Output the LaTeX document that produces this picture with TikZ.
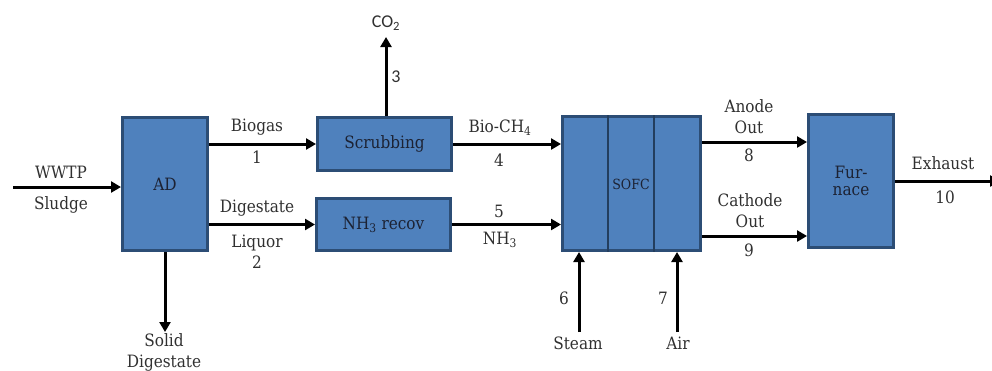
\documentclass[tikz,border=0pt]{standalone}
\usepackage{fontspec}
\setmainfont{DejaVu Serif Condensed}
\newfontfamily\cofont{Carlito}
\usetikzlibrary{arrows.meta,calc}
\definecolor{boxfill}{HTML}{4F81BD}
\definecolor{boxline}{HTML}{2C4D75}
\definecolor{txt}{HTML}{303030}
\definecolor{intxt}{HTML}{1C2233}
\tikzset{
  box/.style={draw=boxline, line width=3pt, fill=boxfill, text=intxt,
    font=\fontsize{17}{17}\selectfont, inner sep=0pt, align=center},
  arr/.style={line width=3pt, -{Triangle[length=10pt,width=11pt]}},
  lbl/.style={text=txt, font=\fontsize{17}{21}\selectfont, inner sep=0pt, align=center},
  cofnt/.style={text=txt, font=\cofont\fontsize{18}{20}\selectfont, inner sep=0pt},
  divider/.style={draw=boxline!80!black, line width=1.5pt}
}
\begin{document}
\begin{tikzpicture}[x=1pt,y=-1pt]
\useasboundingbox (0,0) rectangle (992,370);
% boxes
\node[box, minimum width=85pt, minimum height=133pt] (ad) at (165,184) {AD};
\node[box, minimum width=134pt, minimum height=53pt] (scrub) at (384.5,144) {Scrubbing};
\node[box, minimum width=134pt, minimum height=52pt] (nh3) at (383.5,224.5) {NH\textsubscript{3} recov};
\node[box, minimum width=138pt, minimum height=134pt] (sofc) at (631.5,183.5) {};
\node[box, minimum width=85pt, minimum height=133pt] (furn) at (851,181) {Fur-\\nace};
\draw[divider] ($(sofc.north west)!0.333!(sofc.north east)$) -- ($(sofc.south west)!0.333!(sofc.south east)$);
\draw[divider] ($(sofc.north west)!0.66!(sofc.north east)$) -- ($(sofc.south west)!0.66!(sofc.south east)$);
\node[text=intxt, font=\fontsize{14}{16}\selectfont, inner sep=0pt] (sofclbl) at (631,184) {SOFC};
% free ends
\coordinate (wwtp) at (13,187);
\coordinate (solid) at (165,332);
\coordinate (co2) at (386,37);
\coordinate (steam) at (579,332);
\coordinate (air) at (677,332);
\coordinate (exh) at (1000,182);
% connectors
\draw[arr] (wwtp) -- (wwtp -| ad.west);
\draw[arr] (ad.east |- scrub.west) -- (scrub.west);
\draw[arr] (ad.east |- nh3.west) -- (nh3.west);
\draw[arr] (ad.south) -- (ad.south |- solid);
\draw[arr] (scrub.north -| co2) -- (co2);
\draw[arr] (scrub.east) -- (scrub.east -| sofc.west);
\draw[arr] (nh3.east) -- (nh3.east -| sofc.west);
\draw[arr] (steam) -- (steam |- sofc.south);
\draw[arr] (air) -- (air |- sofc.south);
\draw[arr] ([yshift=41.5pt]sofc.east) coordinate (a8) -- (a8 -| furn.west);
\draw[arr] ([yshift=-52.5pt]sofc.east) coordinate (a9) -- (a9 -| furn.west);
\draw[arr] (furn.east) -- (furn.east -| exh);
% labels
\node[lbl] (l-wwtp) at (61,172) {WWTP};
\node[lbl] (l-sludge) at (61,205) {Sludge};
\node[lbl] (l-biogas) at (257,127) {Biogas};
\node[lbl] (l-1) at (257,157) {1};
\node[lbl] (l-dig) at (257,208) {Digestate};
\node[lbl] (l-liq) at (257,252) {Liquor\\2};
\node[lbl] (l-solid) at (164,352) {Solid\\Digestate};
\node[cofnt] (l-co2) at (386,23) {CO\textsubscript{2}};
\node[cofnt] (l-3) at (396,77) {3};
\node[lbl] (l-bioch4) at (500,128) {Bio-CH\textsubscript{4}};
\node[lbl] (l-4) at (499,160) {4};
\node[lbl] (l-5) at (499,211) {5};
\node[lbl] (l-nh3) at (500,240) {NH\textsubscript{3}};
\node[lbl] (l-6) at (564,298) {6};
\node[lbl] (l-7) at (663,298) {7};
\node[lbl] (l-steam) at (578,343) {Steam};
\node[lbl] (l-air) at (678,343) {Air};
\node[lbl] (l-anode) at (749,116.5) {Anode\\Out};
\node[lbl] (l-8) at (749,155) {8};
\node[lbl] (l-cath) at (750,211) {Cathode\\Out};
\node[lbl] (l-9) at (749,250) {9};
\node[lbl] (l-exh) at (943,163) {Exhaust};
\node[lbl] (l-10) at (945,197) {10};
\end{tikzpicture}
\end{document}
